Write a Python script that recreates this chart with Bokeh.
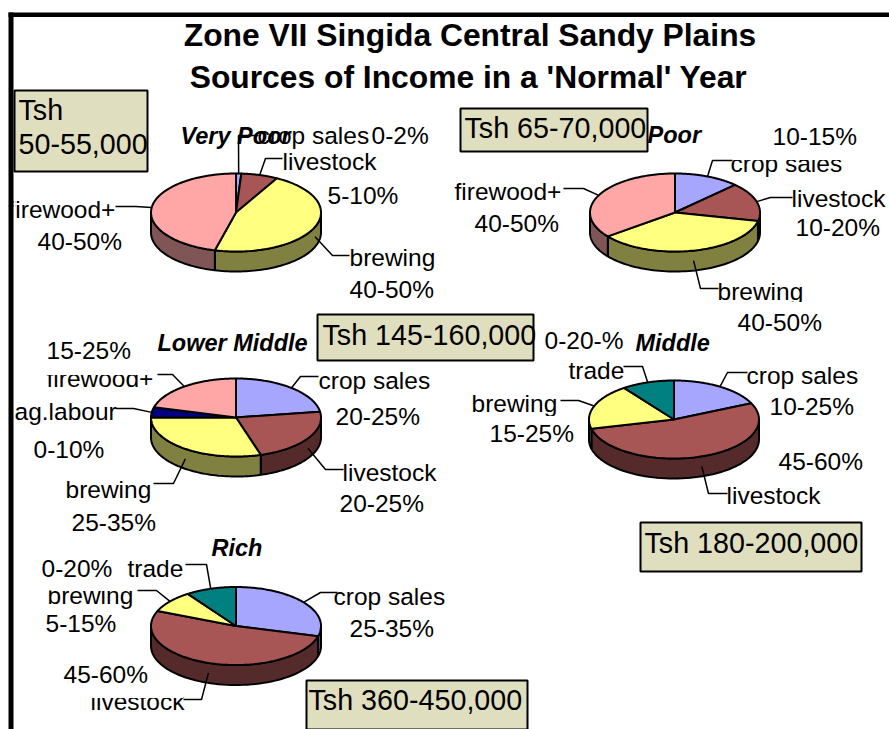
import numpy as np
from bokeh.embed import file_html
from bokeh.resources import INLINE
from bokeh.plotting import figure
from bokeh.models import Range1d
from bokeh.core.properties import value

# ---- data ----
title_lines = ["Zone VII Singida Central Sandy Plains", "Sources of Income in a 'Normal' Year"]
pie_names = ["Very Poor", "Poor", "Lower Middle", "Middle", "Rich"]

very_poor_sources = ["crop sales", "livestock", "brewing", "firewood+"]
very_poor_shares = [1.0, 7.0, 46.0, 46.0]
very_poor_ranges = ["0-2%", "5-10%", "40-50%", "40-50%"]

poor_sources = ["crop sales", "livestock", "brewing", "firewood+"]
poor_shares = [12.5, 16.0, 36.0, 35.5]
poor_ranges = ["10-15%", "10-20%", "40-50%", "40-50%"]

lower_middle_sources = ["crop sales", "livestock", "brewing", "ag.labour", "firewood+"]
lower_middle_shares = [22.6, 22.7, 29.7, 4.2, 20.8]
lower_middle_ranges = ["20-25%", "20-25%", "25-35%", "0-10%", "15-25%"]

middle_sources = ["crop sales", "livestock", "brewing", "trade"]
middle_shares = [18.2, 53.0, 18.8, 10.0]
middle_ranges = ["10-25%", "45-60%", "15-25%", "0-20-%"]

rich_sources = ["crop sales", "livestock", "brewing", "trade"]
rich_shares = [29.2, 52.1, 9.1, 9.6]
rich_ranges = ["25-35%", "45-60%", "5-15%", "0-20%"]

income_lines = [["Tsh", "50-55,000"], ["Tsh 65-70,000"], ["Tsh 145-160,000"],
                ["Tsh 180-200,000"], ["Tsh 360-450,000"]]

top_colors = {"crop sales": "#A6A6FF", "livestock": "#A85555", "brewing": "#FFFF80",
              "firewood+": "#FFA6A6", "ag.labour": "#000080", "trade": "#008080"}
side_colors = {"crop sales": "#555590", "livestock": "#552A2A", "brewing": "#808040",
               "firewood+": "#805555", "ag.labour": "#000040", "trade": "#004040"}
box_color = "#DFDFC0"
FONT = value("Liberation Sans")
LABEL = 24.5

# ---- layout, in page pixels ----
RX, RY, DEPTH = 85, 39, 20
layouts = [
    dict(cx=235.5, cy=212, name=(180, 144), box=(14, 90, 147, 171), box_text=[(18, 120), (18, 154)],
         label=[(257, 144), (282, 170), (349, 266), (8, 218)],
         pct=[(371, 144), (327, 204), (349, 298), (37, 250)],
         elbow=[[(238, 135), (258, 135)], [(265, 158), (282, 158)], [(332, 255), (349, 255)], [(135, 206), (115, 206)]]),
    dict(cx=674.5, cy=212, name=(647, 143), box=(460, 108, 647, 151), box_text=[(464, 138.5)],
         label=[(730, 172), (791, 207), (717, 300), (454, 200)],
         pct=[(772, 145), (795, 236), (737, 331), (474, 232)],
         elbow=[[(712, 160), (732, 160)], [(770, 197), (792, 197)], [(700, 288), (718, 288)], [(583, 188), (563, 188)]]),
    dict(cx=235.5, cy=417, name=(157, 351), box=(317, 314, 533, 360), box_text=[(322, 345)],
         label=[(318, 389), (342, 481), (65, 498), (14, 420), (46, 387)],
         pct=[(335, 425), (339, 512), (71, 531), (33, 458), (46, 359)],
         elbow=[[(300, 376), (318, 376)], [(325, 469), (343, 469)], [(173, 483), (153, 483)], [(133, 408), (115, 408)], [(172, 374), (157, 374)]]),
    dict(cx=673.5, cy=419, name=(635, 351), box=(640, 522, 861, 571), box_text=[(644, 553)],
         label=[(746, 384), (726, 504), (471, 412), (568, 379)],
         pct=[(769, 415), (778, 470), (489, 442), (544, 349)],
         elbow=[[(727, 372), (747, 372)], [(708, 493), (727, 493)], [(578, 400), (560, 400)], [(642, 366), (623, 366)]]),
    dict(cx=235.5, cy=625.5, name=(211, 556), box=(306, 680, 527, 729), box_text=[(308, 710.5)],
         label=[(333, 605), (90, 710), (47, 604), (127, 577)],
         pct=[(349, 637), (63, 683), (45, 632), (41, 577)],
         elbow=[[(320, 592), (337, 592)], [(201, 699), (183, 699)], [(156, 590), (137, 590)], [(206, 564), (185, 564)]]),
]
pies = [
    (very_poor_sources, very_poor_shares, very_poor_ranges),
    (poor_sources, poor_shares, poor_ranges),
    (lower_middle_sources, lower_middle_shares, lower_middle_ranges),
    (middle_sources, middle_shares, middle_ranges),
    (rich_sources, rich_shares, rich_ranges),
]
# white strips that crop label texts, as in the source picture
crops = [(13, 200, 15, 222), (728, 148, 846, 159.5), (716, 301.5, 808, 308), (44, 362, 150, 374.5),
         (470, 415.5, 562, 422), (44, 582, 137, 590), (88, 690, 183, 697.5)]

p = figure(width=889, height=729, output_backend="svg", toolbar_location=None,
           x_range=Range1d(0, 889), y_range=Range1d(729, 0), min_border=0, outline_line_color=None,
           background_fill_color="white", border_fill_color="white")
p.axis.visible = False
p.grid.visible = False

BASE_SHIFT = 0.38


def put(xs, ys, texts, size=LABEL, style="normal", align="left"):
    ys = [y - BASE_SHIFT * size for y in ys]
    p.text(xs, ys, text=texts, text_font=FONT, text_font_size=value(f"{size}px"), text_font_style=value(style),
           text_align=value(align), text_baseline=value("alphabetic"), text_color="black")


# labels first, so that boxes and slices lie over them
for (sources, shares, ranges), lay in zip(pies, layouts):
    put([c[0] for c in lay["label"]], [c[1] for c in lay["label"]], sources)
    put([c[0] for c in lay["pct"]], [c[1] for c in lay["pct"]], ranges)

p.quad(left=[c[0] for c in crops], bottom=[c[1] for c in crops], right=[c[2] for c in crops],
       top=[c[3] for c in crops], fill_color="white", line_color=None)

for (sources, shares, ranges), lay, name in zip(pies, layouts, pie_names):
    cx, cy = lay["cx"], lay["cy"]
    edges = np.concatenate([[0.0], np.cumsum(shares)]) / np.sum(shares) * 2 * np.pi

    def pt(t, dy=0.0):
        return cx + RX * np.sin(t), cy - RY * np.cos(t) + dy

    # side walls
    for s, a, b in zip(sources, edges[:-1], edges[1:]):
        lo, hi = max(a, np.pi / 2), min(b, 3 * np.pi / 2)
        if hi <= lo:
            continue
        t = np.linspace(lo, hi, 60)
        x, y = pt(t)
        xb, yb = pt(t[::-1], DEPTH)
        p.patch(np.r_[x, xb], np.r_[y, yb], fill_color=side_colors[s], line_color="black", line_width=2)
    # top faces
    for s, a, b in zip(sources, edges[:-1], edges[1:]):
        t = np.linspace(a, b, 90)
        x, y = pt(t)
        p.patch(np.r_[cx, x], np.r_[cy, y], fill_color=top_colors[s], line_color="black", line_width=2)
    # leaders
    for a, b, elbow in zip(edges[:-1], edges[1:], lay["elbow"]):
        m = (a + b) / 2
        x0, y0 = pt(m, DEPTH / 2 if np.cos(m) < 0 else 0)
        p.line([x0] + [e[0] for e in elbow], [y0] + [e[1] for e in elbow], line_color="black", line_width=1.5)
    put([lay["name"][0]], [lay["name"][1]], [name], size=23.5, style="bold italic")
    # income box
    l, t_, r, b_ = lay["box"]
    p.quad(left=[l], right=[r], top=[t_], bottom=[b_], fill_color=box_color, line_color="black", line_width=2)
    lines = income_lines[pie_names.index(name)]
    put([c[0] for c in lay["box_text"]], [c[1] for c in lay["box_text"]], lines, size=28.7)

put([469.5, 468], [47, 89], title_lines, size=31.8, style="bold", align="center")

# frame
p.quad(left=[8, 8], right=[13, 889], top=[12, 12], bottom=[729, 16.5], fill_color="black", line_color=None)

open("out.html", "w").write(file_html(p, INLINE))
